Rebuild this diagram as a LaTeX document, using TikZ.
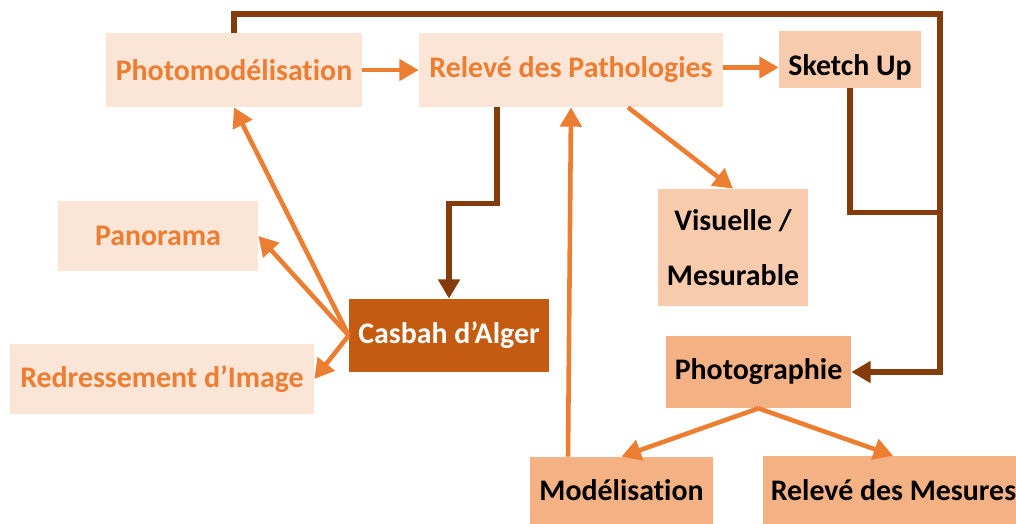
\documentclass[tikz,border=0pt]{standalone}
\usepackage{fontspec}
\setmainfont{Carlito}[Ligatures=NoCommon]
\usepackage{tikz}
\usetikzlibrary{arrows.meta,positioning,calc}

\definecolor{paleorange}{HTML}{FBE5D6}
\definecolor{lightorange}{HTML}{F8CBAD}
\definecolor{midorange}{HTML}{F4B183}
\definecolor{darkorange}{HTML}{C55A11}
\definecolor{lineorange}{HTML}{ED7D31}
\definecolor{linebrown}{HTML}{843C0C}

\begin{document}
\begin{tikzpicture}[
    box/.style={rectangle, inner sep=0pt, font=\fontsize{17}{20}\selectfont\bfseries},
    pale/.style={box, fill=paleorange, text=lineorange},
    light/.style={box, fill=lightorange, text=black},
    mid/.style={box, fill=midorange, text=black},
    orangearrow/.style={draw=lineorange, line width=2.6pt, -{Triangle[length=11pt,width=12pt]}},
    brownline/.style={draw=linebrown, line width=2.9pt},
    brownarrow/.style={brownline, -{Triangle[length=11pt,width=12pt]}}]
          \useasboundingbox (0,0) rectangle (20.32,-10.48);

          \node[pale, minimum width=5.12cm, minimum height=1.48cm] (photomod) at (4.68,-1.40) {Photomodélisation};
          \node[pale, minimum width=6.08cm, minimum height=1.48cm] (pathol) at (11.42,-1.40) {Relevé des Pathologies};
          \node[light, minimum width=2.84cm, minimum height=1.14cm] (sketch) at (17.00,-1.19) {\raisebox{-0.33cm}[0pt][0pt]{Sketch Up}};
          \node[pale, minimum width=4.00cm, minimum height=1.40cm] (panorama) at (3.16,-4.72) {Panorama};
          \node[box, fill=darkorange, text=white, minimum width=4.00cm, minimum height=1.46cm] (casbah) at (8.98,-6.71) {Casbah d’Alger};
          \node[pale, minimum width=6.08cm, minimum height=1.40cm] (redress) at (3.24,-7.58) {Redressement d’Image};
          \node[light, align=center, minimum width=3.00cm, minimum height=2.34cm] (visuelle) at (14.66,-4.95) {Visuelle /\\[11pt]Mesurable};
          \node[mid, minimum width=3.70cm, minimum height=1.44cm] (photo) at (15.17,-7.44) {Photographie};
          \node[mid, minimum width=3.66cm, minimum height=1.34cm] (modelis) at (12.43,-9.81) {Modélisation};
          \node[mid, minimum width=5.06cm, minimum height=1.36cm] (mesures) at (17.79,-9.80) {\hspace{0.16cm}Relevé des Mesures};

          \coordinate (loop) at (18.80,-0.28);
          \coordinate (join) at (18.80,-4.25);

          % brown connectors
          \draw[brownarrow] (photomod.north) |- (loop) |- (photo.east);
          \draw[brownline] (sketch.south) |- (join);
          \draw[brownarrow] ([xshift=-1.48cm]pathol.south) |- ([yshift=1.9cm]casbah.north) -- (casbah.north);

          % orange arrows
          \draw[orangearrow] (photomod.east) -- (pathol.west);
          \draw[orangearrow] ([yshift=.05cm]pathol.east) -- ([yshift=.05cm]pathol.east -| sketch.west);
          \draw[orangearrow] ([xshift=1.14cm]pathol.south) -- (visuelle.north);
          \draw[orangearrow] ([xshift=-1.07cm]modelis.north) -- (pathol.south);
          \draw[orangearrow] (casbah.west) -- (photomod.south);
          \draw[orangearrow] (casbah.west) -- (panorama.east);
          \draw[orangearrow] (casbah.west) -- (redress.east);
          \draw[orangearrow] (photo.south) -- (modelis.north);
          \draw[orangearrow] (photo.south) -- ([xshift=.07cm]mesures.north);
        \end{tikzpicture}
\end{document}
